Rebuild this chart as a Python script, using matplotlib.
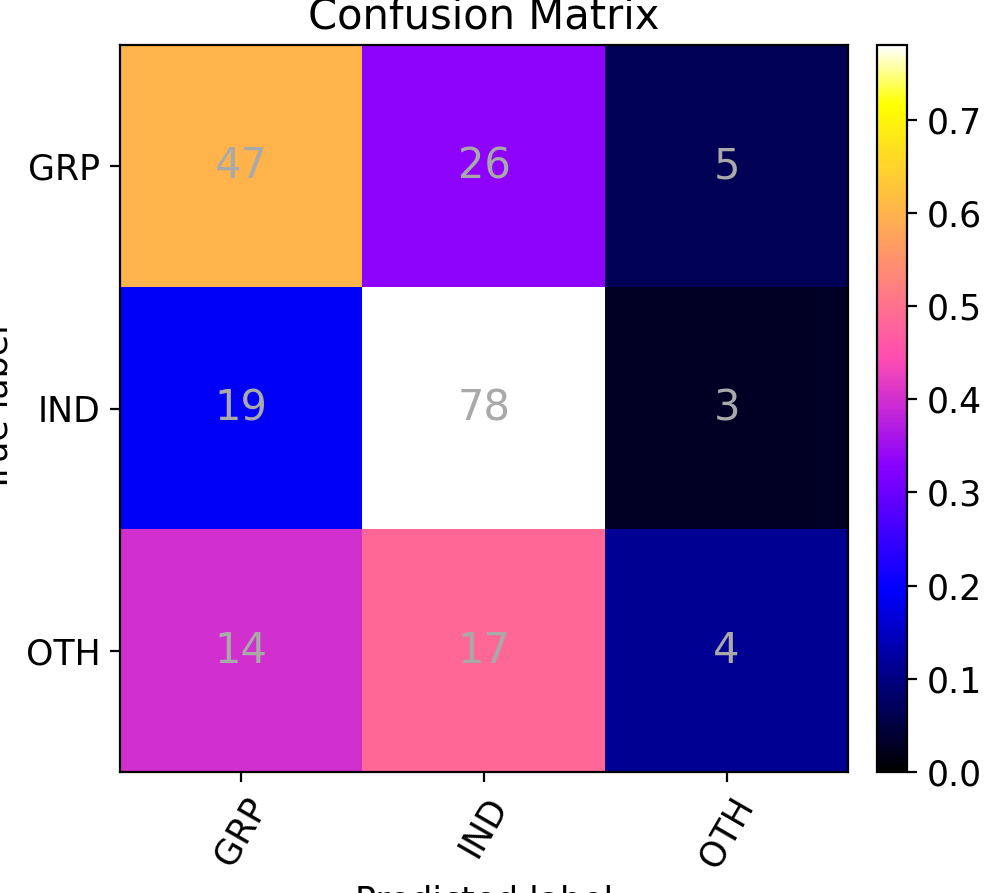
import matplotlib
matplotlib.use("Agg")
import matplotlib.pyplot as plt
import numpy as np

classes = ["GRP", "IND", "OTH"]
counts = np.array([
    [47, 26, 5],
    [19, 78, 3],
    [14, 17, 4],
])

# colours follow the row-normalised values, text shows raw counts
norm = counts / counts.sum(axis=1, keepdims=True)

plt.rcParams["font.size"] = 12.5
fig = plt.figure(figsize=(4.995, 4.465), dpi=200)
ax = fig.add_axes([120 / 999, 1 - 772 / 893, 728 / 999, 727 / 893])
cax = fig.add_axes([877 / 999, 1 - 772 / 893, 30 / 999, 727 / 893])
im = ax.imshow(norm, interpolation="nearest", cmap="gnuplot2", vmin=0, aspect="auto")
ax.set_title("Confusion Matrix")
fig.colorbar(im, cax=cax)
ticks = np.arange(len(classes))
ax.set_xticks(ticks)
ax.set_xticklabels(classes, rotation=60)
ax.set_yticks(ticks)
ax.set_yticklabels(classes)
for i in range(counts.shape[0]):
    for j in range(counts.shape[1]):
        ax.text(j, i, str(counts[i, j]), ha="center", va="center",
                color="darkgray", fontsize=15)
ax.set_ylabel("True label")
ax.set_xlabel("Predicted label")
fig.savefig("out.png", dpi=200)
